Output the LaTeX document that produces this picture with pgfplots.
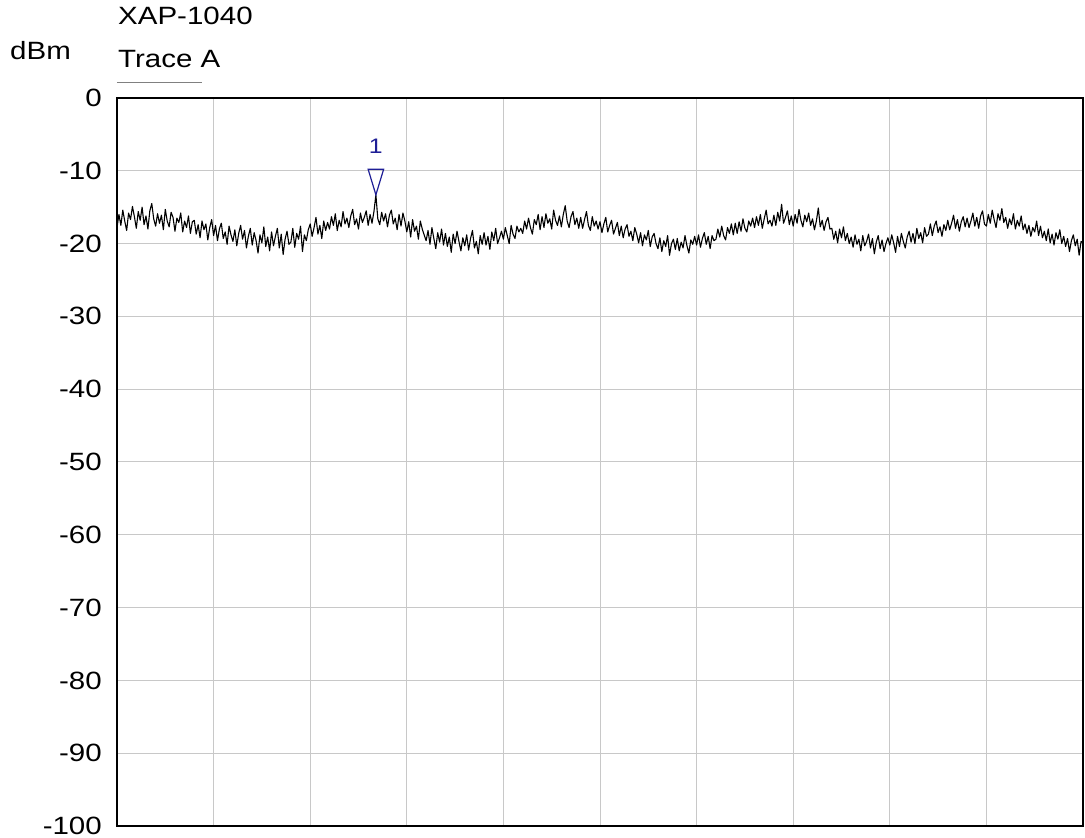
\documentclass[border=0pt]{standalone}
\usepackage{fontspec}
\setmainfont{Liberation Sans}[FakeStretch=1.18]
\usepackage{pgfplots}
\pgfplotsset{compat=1.18}
\definecolor{gridc}{RGB}{200,200,200}
\definecolor{mkblue}{RGB}{30,30,150}
\begin{document}
\fontsize{25}{30}\selectfont
\begin{tikzpicture}
\useasboundingbox (-117pt,-12pt) rectangle (968pt,826pt);
\begin{axis}[
  at={(0pt,0pt)}, anchor=south west,
  scale only axis, width=966pt, height=728pt,
  xmin=0, xmax=1000, ymin=-100, ymax=0,
  xtick={100,200,...,900}, xticklabels={},
  ytick={-100,-90,-80,-70,-60,-50,-40,-30,-20,-10,0},
  yticklabels={-100,-90,-80,-70,-60,-50,-40,-30,-20,-10,0},
  major tick length=0pt,
  grid=major, grid style={gridc, line width=1pt},
  axis line style={black, line width=1.6pt},
  yticklabel style={anchor=east, inner sep=0pt, xshift=-15pt, font=\fontsize{25}{30}\selectfont},
  /pgf/number format/assume math mode=true,
  clip=false,
]
\addplot[black, line width=1.1pt, line join=round] coordinates {
(0,-17.8)(2,-16.0)(4,-17.5)(6,-15.4)(8,-16.9)(10,-18.2)(12,-15.8)(14,-16.7)(16,-14.9)(18,-16.3)
(20,-17.9)(22,-15.6)(24,-16.8)(26,-15.0)(28,-17.4)(30,-16.2)(32,-18.0)(34,-15.5)(36,-14.5)(38,-16.6)
(40,-17.6)(42,-15.9)(44,-17.2)(46,-16.1)(48,-18.1)(50,-15.3)(52,-16.9)(54,-17.7)(56,-15.7)(58,-16.4)
(60,-18.3)(62,-16.5)(64,-17.1)(66,-15.8)(68,-18.4)(70,-16.9)(72,-17.8)(74,-16.2)(76,-18.6)(78,-17.0)
(80,-16.8)(82,-18.7)(84,-17.4)(86,-19.2)(88,-16.9)(90,-18.1)(92,-17.3)(94,-19.5)(96,-17.8)(98,-16.7)
(100,-18.9)(102,-17.5)(104,-19.6)(106,-18.0)(108,-17.2)(110,-19.3)(112,-18.4)(114,-20.1)(116,-17.6)(118,-18.8)
(120,-19.7)(122,-18.1)(124,-20.3)(126,-18.6)(128,-17.5)(130,-19.4)(132,-18.2)(134,-20.6)(136,-19.0)(138,-17.9)
(140,-20.2)(142,-18.5)(144,-19.6)(146,-21.3)(148,-18.8)(150,-19.9)(152,-17.7)(154,-20.4)(156,-19.1)(158,-21.0)
(160,-18.4)(162,-20.3)(164,-19.0)(166,-17.9)(168,-20.6)(170,-18.7)(172,-21.5)(174,-19.4)(176,-18.3)(178,-20.1)
(180,-19.8)(182,-17.9)(184,-20.5)(186,-18.6)(188,-19.4)(190,-17.6)(192,-21.1)(194,-18.8)(196,-19.6)(198,-18.1)
(200,-17.3)(202,-19.0)(204,-17.8)(206,-16.4)(208,-18.7)(210,-17.5)(212,-19.3)(214,-16.9)(216,-18.2)(218,-17.1)
(220,-18.0)(222,-16.3)(224,-17.5)(226,-15.9)(228,-18.2)(230,-16.8)(232,-17.7)(234,-15.6)(236,-17.3)(238,-16.5)
(240,-17.8)(242,-16.2)(244,-15.3)(246,-17.4)(248,-16.6)(250,-18.0)(252,-15.8)(254,-17.1)(256,-16.4)(258,-15.5)
(260,-17.5)(262,-16.0)(264,-17.2)(266,-15.6)(268,-13.3)(270,-16.6)(272,-17.4)(274,-15.7)(276,-16.9)(278,-15.9)
(280,-17.7)(282,-16.1)(284,-15.4)(286,-17.3)(288,-16.5)(290,-18.1)(292,-16.0)(294,-17.6)(296,-15.8)(298,-16.9)
(300,-18.4)(302,-17.0)(304,-19.1)(306,-16.7)(308,-18.3)(310,-17.6)(312,-19.4)(314,-16.9)(316,-18.0)(318,-18.8)
(320,-19.6)(322,-18.2)(324,-20.1)(326,-17.8)(328,-19.3)(330,-20.7)(332,-18.5)(334,-19.8)(336,-18.0)(338,-20.2)
(340,-18.6)(342,-20.4)(344,-19.1)(346,-21.2)(348,-18.7)(350,-20.0)(352,-18.3)(354,-19.7)(356,-21.0)(358,-19.2)
(360,-20.3)(362,-18.8)(364,-20.9)(366,-19.3)(368,-18.2)(370,-20.6)(372,-19.7)(374,-21.4)(376,-18.9)(378,-20.1)
(380,-18.5)(382,-20.2)(384,-19.0)(386,-20.8)(388,-18.4)(390,-19.6)(392,-17.9)(394,-20.0)(396,-19.2)(398,-18.3)
(400,-19.4)(402,-17.8)(404,-18.9)(406,-20.0)(408,-17.5)(410,-18.7)(412,-19.3)(414,-17.6)(416,-18.4)(418,-17.9)
(420,-18.6)(422,-16.9)(424,-18.0)(426,-16.5)(428,-17.8)(430,-18.7)(432,-16.7)(434,-17.4)(436,-16.0)(438,-18.1)
(440,-16.3)(442,-17.8)(444,-15.9)(446,-17.2)(448,-16.6)(450,-18.0)(452,-15.4)(454,-16.8)(456,-17.5)(458,-16.2)
(460,-17.7)(462,-16.0)(464,-14.8)(466,-16.9)(468,-17.8)(470,-16.3)(472,-15.6)(474,-17.4)(476,-16.5)(478,-17.9)
(480,-16.4)(482,-17.9)(484,-16.7)(486,-15.6)(488,-17.5)(490,-18.2)(492,-16.3)(494,-17.6)(496,-16.9)(498,-18.0)
(500,-17.0)(502,-18.5)(504,-17.3)(506,-16.4)(508,-18.4)(510,-17.5)(512,-16.8)(514,-18.7)(516,-17.9)(518,-17.1)
(520,-18.9)(522,-17.6)(524,-19.2)(526,-18.0)(528,-17.4)(530,-19.0)(532,-18.3)(534,-19.6)(536,-17.8)(538,-18.7)
(540,-19.9)(542,-18.5)(544,-20.3)(546,-18.8)(548,-19.5)(550,-18.2)(552,-20.4)(554,-19.1)(556,-18.6)(558,-20.0)
(560,-20.7)(562,-19.2)(564,-21.1)(566,-19.6)(568,-20.4)(570,-18.9)(572,-21.6)(574,-20.0)(576,-19.4)(578,-20.8)
(580,-19.3)(582,-21.0)(584,-19.8)(586,-20.6)(588,-18.9)(590,-20.3)(592,-21.3)(594,-19.5)(596,-20.1)(598,-19.0)
(600,-20.2)(602,-18.8)(604,-20.5)(606,-19.3)(608,-18.5)(610,-20.1)(612,-19.0)(614,-20.7)(616,-18.9)(618,-19.6)
(620,-19.4)(622,-18.0)(624,-19.1)(626,-17.6)(628,-18.9)(630,-19.5)(632,-17.8)(634,-18.6)(636,-17.3)(638,-18.8)
(640,-17.2)(642,-18.6)(644,-17.0)(646,-18.3)(648,-16.6)(650,-17.9)(652,-18.4)(654,-16.9)(656,-17.6)(658,-16.5)
(660,-17.8)(662,-16.3)(664,-17.5)(666,-16.0)(668,-17.9)(670,-16.6)(672,-15.4)(674,-17.3)(676,-16.8)(678,-17.6)
(680,-16.1)(682,-17.5)(684,-15.7)(686,-16.9)(688,-14.6)(690,-17.2)(692,-16.4)(694,-15.5)(696,-17.4)(698,-16.2)
(700,-17.6)(702,-16.0)(704,-17.2)(706,-15.3)(708,-16.8)(710,-17.7)(712,-16.1)(714,-17.0)(716,-15.8)(718,-17.5)
(720,-16.6)(722,-18.1)(724,-16.9)(726,-15.1)(728,-17.7)(730,-16.8)(732,-18.2)(734,-17.0)(736,-16.4)(738,-18.0)
(740,-17.9)(742,-19.4)(744,-18.3)(746,-19.9)(748,-18.0)(750,-19.2)(752,-17.7)(754,-19.6)(756,-18.6)(758,-20.0)
(760,-19.1)(762,-20.5)(764,-18.8)(766,-20.1)(768,-19.4)(770,-21.0)(772,-18.9)(774,-20.3)(776,-19.7)(778,-18.7)
(780,-20.6)(782,-19.3)(784,-21.4)(786,-19.8)(788,-18.9)(790,-20.7)(792,-19.5)(794,-21.1)(796,-20.0)(798,-19.2)
(800,-20.2)(802,-18.8)(804,-19.9)(806,-21.2)(808,-19.0)(810,-20.4)(812,-18.6)(814,-19.7)(816,-20.6)(818,-19.1)
(820,-18.3)(822,-19.8)(824,-18.6)(826,-20.0)(828,-17.9)(830,-19.3)(832,-18.5)(834,-19.9)(836,-17.8)(838,-19.0)
(840,-18.7)(842,-17.3)(844,-18.9)(846,-17.6)(848,-16.9)(850,-18.5)(852,-17.7)(854,-19.0)(856,-17.4)(858,-18.2)
(860,-16.8)(862,-18.1)(864,-17.2)(866,-16.1)(868,-17.9)(870,-16.7)(872,-18.3)(874,-17.0)(876,-16.3)(878,-17.7)
(880,-16.5)(882,-17.8)(884,-16.9)(886,-15.8)(888,-17.6)(890,-16.4)(892,-17.9)(894,-16.2)(896,-15.5)(898,-17.3)
(900,-17.6)(902,-16.0)(904,-17.2)(906,-15.4)(908,-16.7)(910,-17.8)(912,-15.9)(914,-16.8)(916,-15.2)(918,-17.1)
(920,-16.4)(922,-17.9)(924,-16.6)(926,-17.4)(928,-15.9)(930,-18.0)(932,-16.8)(934,-17.6)(936,-16.2)(938,-18.1)
(940,-17.3)(942,-18.6)(944,-17.5)(946,-19.0)(948,-17.8)(950,-18.4)(952,-16.9)(954,-18.9)(956,-17.6)(958,-19.2)
(960,-18.3)(962,-19.6)(964,-18.0)(966,-19.9)(968,-18.7)(970,-20.2)(972,-18.5)(974,-19.4)(976,-18.1)(978,-20.0)
(980,-19.0)(982,-20.4)(984,-19.3)(986,-21.1)(988,-19.6)(990,-18.8)(992,-20.3)(994,-19.4)(996,-21.6)(998,-19.7)
(1000,-19.9)
};
\addplot[mkblue, line width=1.2pt, line join=miter] coordinates {(260,-9.8)(276,-9.8)(268,-13.3)} -- cycle;
\node[mkblue, font=\fontsize{21}{25}\selectfont] at (axis cs:268,-6.6) {1};
\end{axis}
\node[anchor=base west, inner sep=0pt] at (1pt,801pt) {XAP-1040};
\node[anchor=base west, inner sep=0pt] at (1pt,758pt) {Trace A};
\node[anchor=base west, inner sep=0pt] at (-107pt,766pt) {dBm};
\draw[gray, line width=1pt] (0pt,743pt) -- (85pt,743pt);
\end{tikzpicture}
\end{document}
